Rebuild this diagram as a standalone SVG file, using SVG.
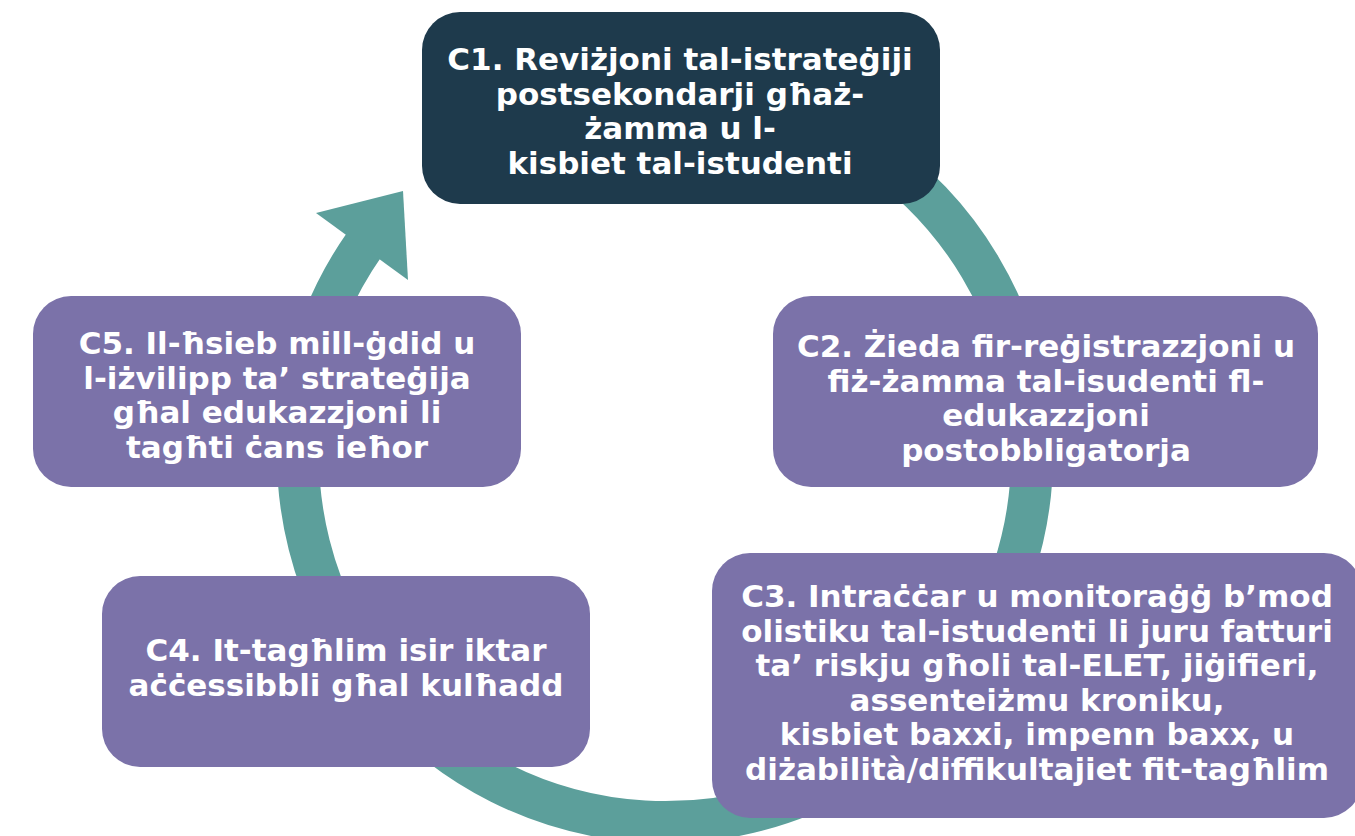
<svg xmlns="http://www.w3.org/2000/svg" width="1355" height="836" viewBox="0 0 1355 836">
<style>
.box{fill:#7b72a9}
.dark{fill:#1e3a4c}
.t{font-family:"DejaVu Sans","Liberation Sans",sans-serif;font-weight:bold;font-size:31px;fill:#ffffff;text-anchor:middle}
.ring{fill:none;stroke:#5c9f9b;stroke-width:42}
</style>
<rect width="1355" height="836" fill="#ffffff"/>
<g id="connectors">
<path class="ring" d="M 728.7 93.6 A 367 367 0 1 1 364.4 244.5"/>
<polygon points="316,213 403,191 408,280" fill="#5c9f9b"/>
</g>
<g id="c1">
<rect class="dark" x="422" y="12" width="518" height="192" rx="38"/>
<text class="t" x="680" y="70">C1. Reviżjoni tal-istrateġiji</text>
<text class="t" x="680" y="104.5">postsekondarji għaż-</text>
<text class="t" x="680" y="139">żamma u l-</text>
<text class="t" x="680" y="173.5">kisbiet tal-istudenti</text>
</g>
<g id="c2">
<rect class="box" x="773" y="296" width="545" height="191" rx="38"/>
<text class="t" x="1046" y="357">C2. Żieda fir-reġistrazzjoni u</text>
<text class="t" x="1046" y="391.5">fiż-żamma tal-isudenti fl-</text>
<text class="t" x="1046" y="426">edukazzjoni</text>
<text class="t" x="1046" y="460.5">postobbligatorja</text>
</g>
<g id="c3">
<rect class="box" x="712" y="553" width="650" height="265" rx="38"/>
<text class="t" x="1037" y="607">C3. Intraċċar u monitoraġġ b’mod</text>
<text class="t" x="1037" y="641.5">olistiku tal-istudenti li juru fatturi</text>
<text class="t" x="1037" y="676">ta’ riskju għoli tal-ELET, jiġifieri,</text>
<text class="t" x="1037" y="710.5">assenteiżmu kroniku,</text>
<text class="t" x="1037" y="745">kisbiet baxxi, impenn baxx, u</text>
<text class="t" x="1037" y="779.5">diżabilità/diffikultajiet fit-tagħlim</text>
</g>
<g id="c4">
<rect class="box" x="102" y="576" width="488" height="191" rx="38"/>
<text class="t" x="346" y="661">C4. It-tagħlim isir iktar</text>
<text class="t" x="346" y="695.5">aċċessibbli għal kulħadd</text>
</g>
<g id="c5">
<rect class="box" x="33" y="296" width="488" height="191" rx="38"/>
<text class="t" x="277" y="354">C5. Il-ħsieb mill-ġdid u</text>
<text class="t" x="277" y="388.5">l-iżvilipp ta’ strateġija</text>
<text class="t" x="277" y="423">għal edukazzjoni li</text>
<text class="t" x="277" y="457.5">tagħti ċans ieħor</text>
</g>
</svg>
